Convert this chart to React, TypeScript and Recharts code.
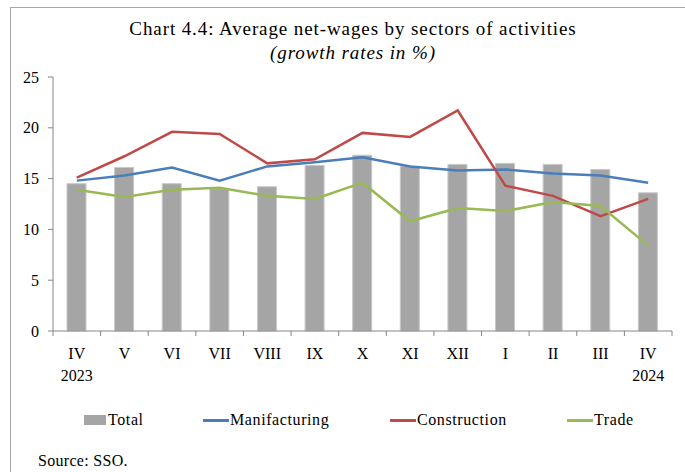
import React from "react";
import { ComposedChart, Bar, Line, XAxis, YAxis } from "recharts";

const months = ["IV", "V", "VI", "VII", "VIII", "IX", "X", "XI", "XII", "I", "II", "III", "IV"];
const years = ["2023", "", "", "", "", "", "", "", "", "", "", "", "2024"];
const total = [14.5, 16.1, 14.5, 14.0, 14.2, 16.3, 17.3, 16.2, 16.4, 16.5, 16.4, 15.9, 13.6];
const manufacturing = [14.8, 15.3, 16.1, 14.8, 16.2, 16.6, 17.1, 16.2, 15.8, 15.9, 15.5, 15.3, 14.6];
const construction = [15.1, 17.2, 19.6, 19.4, 16.5, 16.9, 19.5, 19.1, 21.7, 14.3, 13.3, 11.3, 13.0];
const trade = [13.9, 13.2, 13.9, 14.1, 13.3, 13.0, 14.6, 10.8, 12.1, 11.8, 12.7, 12.3, 8.4];
const yTicks = [0, 5, 10, 15, 20, 25];

const data = months.map((m, i) => ({
    key: i,
    month: m,
    year: years[i],
    total: total[i],
    manufacturing: manufacturing[i],
    construction: construction[i],
    trade: trade[i],
}));

const FONT = "'Liberation Serif', 'DejaVu Serif', serif";
const AXIS = "#868686";
const W = 685;
const H = 472;
const M = { top: 77, right: 13, left: 0, bottom: 91 };
const Y_W = 53;
const X_H = 50;
const band = (W - M.left - M.right - Y_W) / months.length;

const MonthTick = (props: any) => {
    const { x, y, payload, index } = props;
    const i = payload.value;
    return (
        <g>
            <line x1={x - band / 2} x2={x - band / 2} y1={y - 8} y2={y - 3} stroke={AXIS}/>
            {index === months.length - 1 &&
                <line x1={x + band / 2} x2={x + band / 2} y1={y - 8} y2={y - 3} stroke={AXIS}/>}
            <text x={x} y={y + 20} textAnchor="middle" fontFamily={FONT} fontSize={16} fill="#000">
                {months[i]}
            </text>
            {years[i] &&
                <text x={x} y={y + 42} textAnchor="middle" fontFamily={FONT} fontSize={16} fill="#000">
                    {years[i]}
                </text>}
        </g>
    );
};

const legend = [
    { name: "Total", color: "#a5a5a5", bar: true, x: 84 },
    { name: "Manifacturing", color: "#4a7ebb", bar: false, x: 203 },
    { name: "Construction", color: "#be4b48", bar: false, x: 390 },
    { name: "Trade", color: "#98b954", bar: false, x: 567 },
];

export default function App() {
    return (
        <div style={{ position: "fixed", left: 0, top: 0, width: W, height: H, background: "#fff", overflow: "hidden", fontFamily: FONT }}>
            <div style={{ position: "absolute", left: 10, top: 7, width: W, height: H, borderLeft: "1.5px solid #a6a6a6", borderTop: "1.5px solid #a6a6a6" }}/>
            <div style={{ position: "absolute", left: 0, width: 706, top: 17, textAlign: "center", fontSize: 19, lineHeight: "24px", letterSpacing: 0.9, color: "#000" }}>
                Chart 4.4: Average net-wages by sectors of activities
                <br/>
                <i>(growth rates in %)</i>
            </div>
            <div style={{ position: "absolute", left: 0, top: 0 }}>
                <ComposedChart width={W} height={H} data={data} margin={M}>
                    <XAxis dataKey="key" type="category" height={X_H} stroke={AXIS} tickLine={false}
                           tick={<MonthTick/>} interval={0}/>
                    <YAxis type="number" domain={[0, 25]} ticks={yTicks} width={Y_W} stroke={AXIS} tickSize={5}
                           tick={{ fontFamily: FONT, fontSize: 16, fill: "#000" }} tickMargin={9}/>
                    <Bar dataKey="total" name="Total" fill="#a5a5a5" stroke="#c8c8c8" strokeWidth={1} barSize={19}
                         isAnimationActive={false}/>
                    <Line dataKey="manufacturing" name="Manifacturing" stroke="#4a7ebb" strokeWidth={2.5} dot={false}
                          type="linear" isAnimationActive={false}/>
                    <Line dataKey="construction" name="Construction" stroke="#be4b48" strokeWidth={2.5} dot={false}
                          type="linear" isAnimationActive={false}/>
                    <Line dataKey="trade" name="Trade" stroke="#98b954" strokeWidth={2.5} dot={false}
                          type="linear" isAnimationActive={false}/>
                </ComposedChart>
            </div>
            {legend.map((l) => (
                <div key={l.name} style={{ position: "absolute", left: l.x, top: 410, height: 20, display: "flex", alignItems: "center", fontSize: 16, letterSpacing: 0.6 }}>
                    {l.bar
                        ? <span style={{ display: "inline-block", width: 22, height: 10, background: l.color, marginRight: 2 }}/>
                        : <span style={{ display: "inline-block", width: 26, height: 3, background: l.color, marginRight: 1 }}/>}
                    <span>{l.name}</span>
                </div>
            ))}
            <div style={{ position: "absolute", left: 38, top: 452, fontSize: 16, letterSpacing: 0.3 }}>Source: SSO.</div>
        </div>
    );
}
